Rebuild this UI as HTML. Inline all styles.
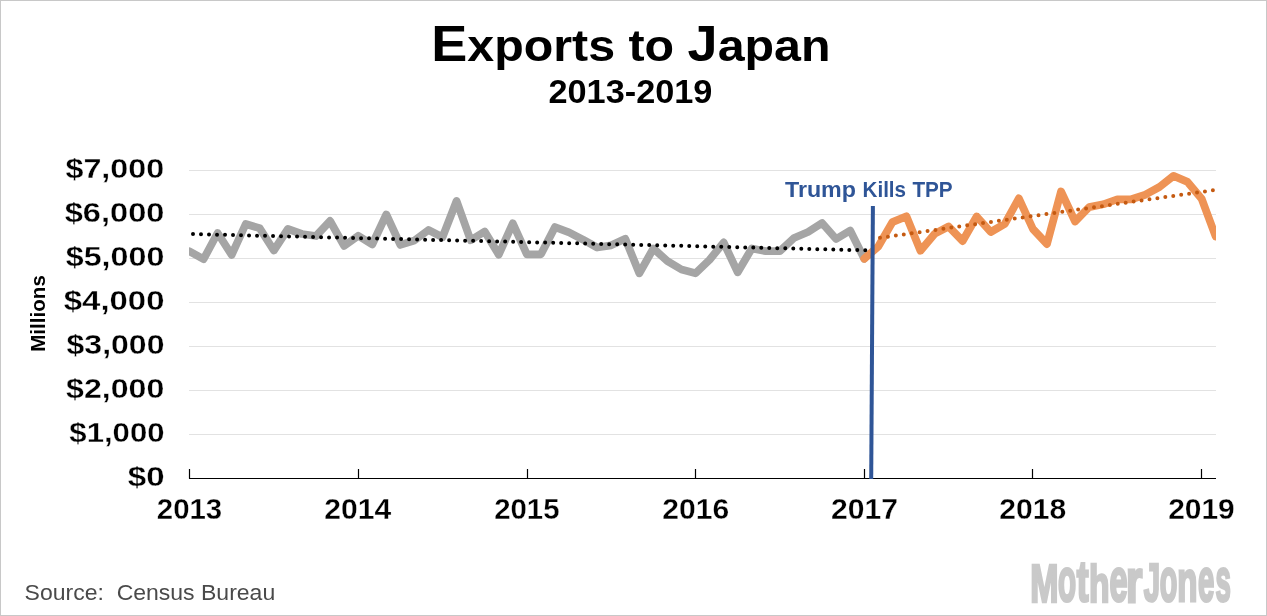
<!DOCTYPE html>
<html><head><meta charset="utf-8"><style>
html,body{margin:0;padding:0;background:#fff;}
svg{display:block;will-change:transform;}
</style></head><body>
<svg width="1267" height="616" viewBox="0 0 1267 616" font-family="Liberation Sans, sans-serif">
<rect x="0.5" y="0.5" width="1266" height="615" fill="#fff" stroke="#c8c8c8" stroke-width="1"/>
<g stroke="#e2e2e2" stroke-width="1"><line x1="189" x2="1216" y1="434.5" y2="434.5"/><line x1="189" x2="1216" y1="390.5" y2="390.5"/><line x1="189" x2="1216" y1="346.5" y2="346.5"/><line x1="189" x2="1216" y1="302.5" y2="302.5"/><line x1="189" x2="1216" y1="258.5" y2="258.5"/><line x1="189" x2="1216" y1="214.5" y2="214.5"/><line x1="189" x2="1216" y1="170.5" y2="170.5"/></g>
<defs><clipPath id="pc"><rect x="189" y="100" width="1027" height="400"/></clipPath></defs>
<g clip-path="url(#pc)" fill="none" stroke-linejoin="round" stroke-linecap="round" stroke-width="7.8">
<polyline points="189.50,251.30 203.56,259.20 217.61,233.00 231.67,254.90 245.73,224.00 259.78,228.30 273.84,250.50 287.90,229.00 301.96,234.00 316.01,236.00 330.07,221.00 344.13,245.90 358.18,235.80 372.24,244.50 386.30,214.50 400.35,244.90 414.41,240.50 428.47,230.00 442.52,237.20 456.58,201.00 470.64,240.20 484.70,231.50 498.75,254.60 512.81,223.40 526.87,254.30 540.92,254.30 554.98,227.10 569.04,232.40 583.09,239.70 597.15,247.50 611.21,245.30 625.27,238.80 639.32,273.30 653.38,248.50 667.44,261.20 681.49,269.50 695.55,273.30 709.61,259.70 723.66,242.50 737.72,272.30 751.78,248.50 765.83,251.20 779.89,251.20 793.95,238.00 808.01,232.00 822.06,223.00 836.12,239.00 850.18,230.50 864.23,258.70" stroke="#a5a5a5"/>
<polyline points="864.23,258.70 878.29,246.50 892.35,222.20 906.40,216.30 920.46,250.70 934.52,233.90 948.57,226.50 962.63,241.00 976.69,216.50 990.75,232.00 1004.80,223.90 1018.86,198.30 1032.92,229.00 1046.97,244.00 1061.03,191.50 1075.09,221.50 1089.14,207.10 1103.20,204.30 1117.26,199.30 1131.32,199.30 1145.37,194.70 1159.43,187.00 1173.49,175.90 1187.54,181.90 1201.60,198.70 1215.66,236.50" stroke="#ee9355"/>
</g>
<g fill="none" stroke-linecap="round" stroke-width="4">
<line x1="193" y1="234.1" x2="866" y2="250.317" stroke="#000" stroke-dasharray="0 8.006"/>
<line x1="880" y1="237.8" x2="1213.5" y2="190.214" stroke="#c55a11" stroke-dasharray="0 8.006"/>
</g>
<g stroke="#000" stroke-width="1.2"><line x1="189" x2="1216" y1="478.5" y2="478.5"/><line x1="189.5" x2="189.5" y1="469" y2="478.5"/><line x1="358.5" x2="358.5" y1="469" y2="478.5"/><line x1="527.5" x2="527.5" y1="469" y2="478.5"/><line x1="695.5" x2="695.5" y1="469" y2="478.5"/><line x1="864.5" x2="864.5" y1="469" y2="478.5"/><line x1="1032.5" x2="1032.5" y1="469" y2="478.5"/><line x1="1201.5" x2="1201.5" y1="469" y2="478.5"/></g>
<line x1="872.9" y1="206" x2="871.2" y2="479" stroke="#2f5597" stroke-width="4"/>
<text transform="translate(630.88,60.9) scale(1.0942,1)" font-size="49.4" font-weight="bold" text-anchor="middle" fill="#000" >E<tspan font-size="44.2">xports to </tspan>J<tspan font-size="44.2">apan</tspan></text>
<text transform="translate(630.42,103) scale(1.033,1)" font-size="33.2" font-weight="bold" text-anchor="middle" fill="#000" >2013-2019</text>
<text transform="translate(164.67,486.3) scale(1.1737,1)" font-size="28.2" font-weight="bold" text-anchor="end" fill="#000" stroke="#fff" stroke-width="0.3">$0</text><text transform="translate(164.54,442.3) scale(1.1044,1)" font-size="28.2" font-weight="bold" text-anchor="end" fill="#000" stroke="#fff" stroke-width="0.3">$1,000</text><text transform="translate(164.24,398.3) scale(1.1386,1)" font-size="28.2" font-weight="bold" text-anchor="end" fill="#000" stroke="#fff" stroke-width="0.3">$2,000</text><text transform="translate(164.45,354.3) scale(1.1349,1)" font-size="28.2" font-weight="bold" text-anchor="end" fill="#000" stroke="#fff" stroke-width="0.3">$3,000</text><text transform="translate(164.45,310.3) scale(1.1677,1)" font-size="28.2" font-weight="bold" text-anchor="end" fill="#000" stroke="#fff" stroke-width="0.3">$4,000</text><text transform="translate(164.32,266.3) scale(1.1429,1)" font-size="28.2" font-weight="bold" text-anchor="end" fill="#000" stroke="#fff" stroke-width="0.3">$5,000</text><text transform="translate(164.45,222.3) scale(1.1566,1)" font-size="28.2" font-weight="bold" text-anchor="end" fill="#000" stroke="#fff" stroke-width="0.3">$6,000</text><text transform="translate(164.22,178.3) scale(1.1457,1)" font-size="28.2" font-weight="bold" text-anchor="end" fill="#000" stroke="#fff" stroke-width="0.3">$7,000</text>
<text transform="translate(189.52,518.8) scale(1.0067,1)" font-size="29.2" font-weight="bold" text-anchor="middle" fill="#000" stroke="#fff" stroke-width="0.3">2013</text><text transform="translate(357.76,518.8) scale(1.0299,1)" font-size="29.2" font-weight="bold" text-anchor="middle" fill="#000" stroke="#fff" stroke-width="0.3">2014</text><text transform="translate(526.85,518.8) scale(1.0066,1)" font-size="29.2" font-weight="bold" text-anchor="middle" fill="#000" stroke="#fff" stroke-width="0.3">2015</text><text transform="translate(695.67,518.8) scale(1.0298,1)" font-size="29.2" font-weight="bold" text-anchor="middle" fill="#000" stroke="#fff" stroke-width="0.3">2016</text><text transform="translate(864.54,518.8) scale(1.0306,1)" font-size="29.2" font-weight="bold" text-anchor="middle" fill="#000" stroke="#fff" stroke-width="0.3">2017</text><text transform="translate(1032.83,518.8) scale(1.0309,1)" font-size="29.2" font-weight="bold" text-anchor="middle" fill="#000" stroke="#fff" stroke-width="0.3">2018</text><text transform="translate(1201.42,518.8) scale(1.0252,1)" font-size="29.2" font-weight="bold" text-anchor="middle" fill="#000" stroke="#fff" stroke-width="0.3">2019</text>
<text transform="translate(784.98,196.9) scale(1.0957,1)" font-size="21.2" font-weight="bold" text-anchor="start" fill="#2f5597" >Trump</text><text transform="translate(862.5,196.9) scale(0.9739,1)" font-size="21.2" font-weight="bold" text-anchor="start" fill="#2f5597" >Kills</text><text transform="translate(912.39,196.9) scale(0.9774,1)" font-size="21.2" font-weight="bold" text-anchor="start" fill="#2f5597" >TPP</text>
<text transform="translate(45,351.8) rotate(-90) scale(1.0,1)" font-size="20.6" font-weight="bold" fill="#000">Millions</text>
<text transform="translate(24.6,599.6) scale(1.0095,1)" font-size="22.8" font-weight="normal" text-anchor="start" fill="#4a4a4a" xml:space="preserve">Source:  Census Bureau</text>
<g font-size="100" font-weight="bold" fill="#c9c9c9" stroke="#c9c9c9" stroke-width="5.0"><text transform="translate(1030.2,601.7) scale(0.3387,0.5301)">M</text><text transform="translate(1058.0,601.0) scale(0.2969,0.6034)">o</text><text transform="translate(1076.7,601.0) scale(0.3562,0.5751)">t</text><text transform="translate(1088.9,601.7) scale(0.3362,0.5234)">h</text><text transform="translate(1109.5,601.0) scale(0.3243,0.6034)">e</text><text transform="translate(1126.0,601.7) scale(0.4202,0.6159)">r</text><text transform="translate(1143.7,601.0) scale(0.2943,0.5433)">J</text><text transform="translate(1159.8,601.0) scale(0.2881,0.6034)">o</text><text transform="translate(1177.2,600.7) scale(0.3309,0.5817)">n</text><text transform="translate(1198.1,601.0) scale(0.2931,0.6034)">e</text><text transform="translate(1215.6,601.0) scale(0.2761,0.6034)">s</text></g>
</svg>
</body></html>
